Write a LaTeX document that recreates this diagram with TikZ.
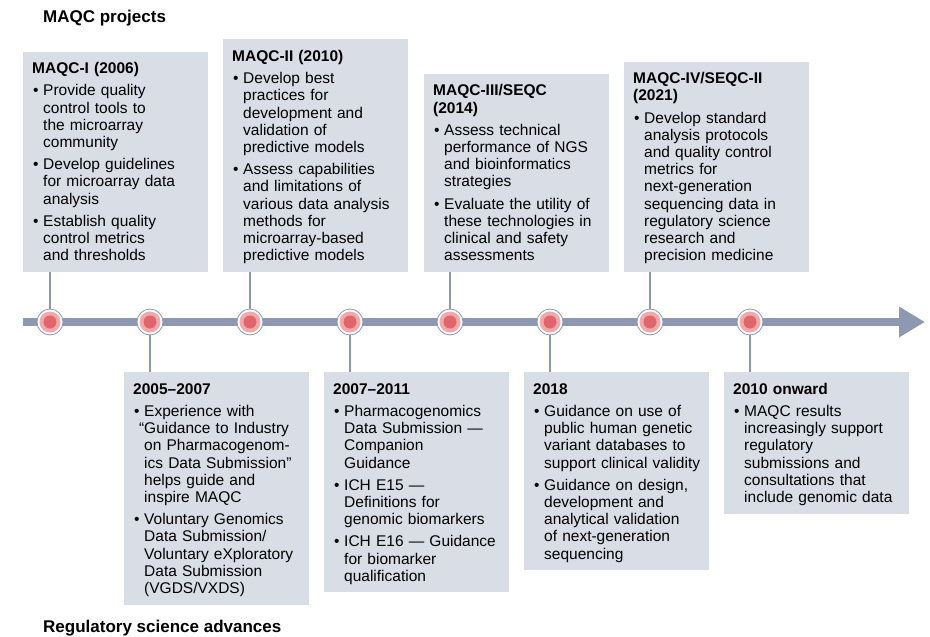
\documentclass[tikz,border=0pt]{standalone}
\usepackage{fontspec}
\setmainfont{Liberation Sans}
\usetikzlibrary{arrows.meta,positioning}
\definecolor{tlBlue}{HTML}{8E98B0}
\definecolor{tlBox}{HTML}{D8DDE6}
\definecolor{tlPink}{HTML}{F2A7A9}
\definecolor{tlRed}{HTML}{E0666B}
% box heading, with a fixed height above the first baseline
\newcommand{\ttl}[1]{\noindent\rule{0pt}{16pt}\textbf{#1}\par}
% bullet item with hanging indent, \\ breaks inside the item
\newcommand{\bul}[1]{\vspace{5pt}{\hangindent=11pt\hangafter=1\noindent\hbox to 11pt{\hskip1pt\textbullet\hfil}\let\\\newline #1\strut\par}}

\begin{document}
\begin{tikzpicture}[x=1pt, y=-1pt,
  box/.style={fill=tlBox, text width=167pt, inner xsep=9pt, inner ysep=6pt, align=left,
    font=\fontsize{15.5}{17.2}\selectfont},
  lbl/.style={font=\fontsize{17}{20}\selectfont\bfseries, inner sep=0pt},
  dot/.style={circle, draw=tlBlue, line width=0.8pt, fill=white, minimum size=26pt, inner sep=0pt,
    path picture={\fill[tlPink] (path picture bounding box.center) circle[radius=10.5pt];
      \fill[tlRed] (path picture bounding box.center) circle[radius=6.5pt];}},
  conn/.style={draw=tlBlue, line width=1.2pt},
  bar/.style={draw=tlBlue, line width=8pt, -{Triangle[length=26pt,width=29pt]}}]
\useasboundingbox (0,0) rectangle (930,637);

\node[lbl, anchor=base west] (projlbl) at (43,23) {MAQC projects};
\node[lbl, anchor=base west] (reglbl) at (43,632) {Regulatory science advances};

% timeline
\coordinate (tl0) at (23,322);
\coordinate (tl1) at (925,322);
\draw[bar] (tl0) -- (tl1);
\foreach \i in {1,...,8}
  \node[dot] (d\i) at (100*\i-50,322) {};

% MAQC projects
\node[box, anchor=south west] (m1) at (23,272) {\ttl{MAQC-I (2006)}
  \bul{Provide quality\\control tools to\\the microarray\\community}
  \bul{Develop guidelines\\for microarray data\\analysis}
  \bul{Establish quality\\control metrics\\and thresholds}};
\node[box, anchor=south west] (m2) at (223,272) {\ttl{MAQC-II (2010)}
  \bul{Develop best\\practices for\\development and\\validation of\\predictive models}
  \bul{Assess capabilities\\and limitations of\\various data analysis\\methods for\\microarray-based\\predictive models}};
\node[box, anchor=south west] (m3) at (424,272) {\ttl{MAQC-III/SEQC\newline(2014)}
  \bul{Assess technical\\performance of NGS\\and bioinformatics\\strategies}
  \bul{Evaluate the utility of\\these technologies in\\clinical and safety\\assessments}};
\node[box, anchor=south west] (m4) at (624,272) {\ttl{MAQC-IV/SEQC-II\newline(2021)}
  \bul{Develop standard\\analysis protocols\\and quality control\\metrics for\\next-generation\\sequencing data in\\regulatory science\\research and\\precision medicine}};

% regulatory advances
\node[box, anchor=north west] (r1) at (124,372) {\ttl{2005–2007}
  \bul{Experience with\\\llap{“}Guidance to Industry\\on Pharmacogenom-\\ics Data Submission”\\helps guide and\\inspire MAQC}
  \bul{Voluntary Genomics\\Data Submission/\\Voluntary eXploratory\\Data Submission\\(VGDS/VXDS)}};
\node[box, anchor=north west] (r2) at (324,372) {\ttl{2007–2011}
  \bul{Pharmacogenomics\\Data Submission —\\Companion\\Guidance}
  \bul{ICH E15 —\\Definitions for\\genomic biomarkers}
  \bul{ICH E16 — Guidance\\for biomarker\\qualification}};
\node[box, anchor=north west] (r3) at (524,372) {\ttl{2018}
  \bul{Guidance on use of\\public human genetic\\variant databases to\\support clinical validity}
  \bul{Guidance on design,\\development and\\analytical validation\\of next-generation\\sequencing}};
\node[box, anchor=north west] (r4) at (724,372) {\ttl{2010 onward}
  \bul{MAQC results\\increasingly support\\regulatory\\submissions and\\consultations that\\include genomic data}};

% stems from boxes to the timeline
\foreach \m/\d in {m1/d1,m2/d3,m3/d5,m4/d7}
  \draw[conn] (\d.north) -- (\d.north |- \m.south);
\foreach \r/\d in {r1/d2,r2/d4,r3/d6,r4/d8}
  \draw[conn] (\d.south) -- (\d.south |- \r.north);
\end{tikzpicture}
\end{document}
